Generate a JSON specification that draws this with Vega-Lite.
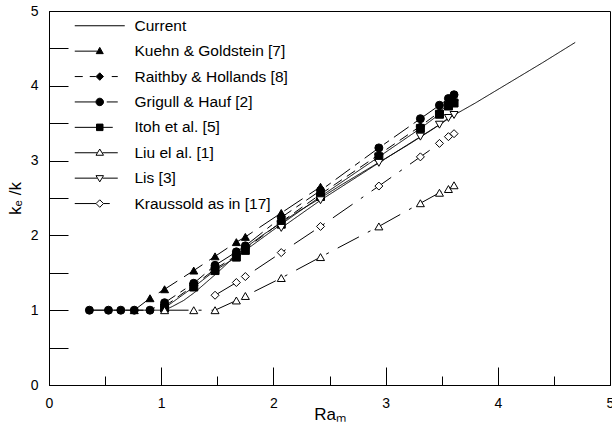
{
  "$schema": "https://vega.github.io/schema/vega-lite/v6.json",
  "width": 561,
  "height": 374,
  "autosize": "none",
  "padding": {"left": 49, "top": 11, "right": 2, "bottom": 47},
  "background": "white",
  "config": {
    "view": {"stroke": "black", "strokeWidth": 1},
    "axis": {
      "domainColor": "black", "tickColor": "black", "grid": false,
      "labelFont": "Liberation Sans", "labelFontSize": 14, "labelColor": "black",
      "titleFont": "Liberation Sans", "titleFontSize": 17, "titleFontWeight": "normal", "titleColor": "black"
    }
  },
  "datasets": {
    "pts": [
      {"s": "Current", "x": 0.36, "y": 1.0},
      {"s": "Current", "x": 1.03, "y": 1.0},
      {"s": "Current", "x": 1.1, "y": 1.05},
      {"s": "Current", "x": 1.2, "y": 1.13},
      {"s": "Current", "x": 1.3, "y": 1.24},
      {"s": "Current", "x": 1.4, "y": 1.37},
      {"s": "Current", "x": 1.5, "y": 1.5},
      {"s": "Current", "x": 1.6, "y": 1.64},
      {"s": "Current", "x": 1.7, "y": 1.77},
      {"s": "Current", "x": 1.8, "y": 1.89},
      {"s": "Current", "x": 1.9, "y": 2.0},
      {"s": "Current", "x": 2.0, "y": 2.1},
      {"s": "Current", "x": 2.2, "y": 2.3},
      {"s": "Current", "x": 2.4, "y": 2.48},
      {"s": "Current", "x": 2.6, "y": 2.67},
      {"s": "Current", "x": 2.8, "y": 2.85},
      {"s": "Current", "x": 3.0, "y": 3.03},
      {"s": "Current", "x": 3.2, "y": 3.21},
      {"s": "Current", "x": 3.4, "y": 3.4},
      {"s": "Current", "x": 3.6, "y": 3.6},
      {"s": "Current", "x": 3.8, "y": 3.77},
      {"s": "Current", "x": 4.0, "y": 3.95},
      {"s": "Current", "x": 4.2, "y": 4.13},
      {"s": "Current", "x": 4.4, "y": 4.31},
      {"s": "Current", "x": 4.69, "y": 4.58},

      {"s": "Kuehn & Goldstein [7]", "x": 0.76, "y": 1.0},
      {"s": "Kuehn & Goldstein [7]", "x": 0.9, "y": 1.16},
      {"s": "Kuehn & Goldstein [7]", "x": 1.03, "y": 1.28},
      {"s": "Kuehn & Goldstein [7]", "x": 1.29, "y": 1.53},
      {"s": "Kuehn & Goldstein [7]", "x": 1.48, "y": 1.72},
      {"s": "Kuehn & Goldstein [7]", "x": 1.67, "y": 1.91},
      {"s": "Kuehn & Goldstein [7]", "x": 1.75, "y": 1.98},
      {"s": "Kuehn & Goldstein [7]", "x": 2.07, "y": 2.3},
      {"s": "Kuehn & Goldstein [7]", "x": 2.42, "y": 2.65},

      {"s": "Raithby & Hollands [8]", "x": 1.03, "y": 1.05},
      {"s": "Raithby & Hollands [8]", "x": 1.29, "y": 1.33},
      {"s": "Raithby & Hollands [8]", "x": 1.48, "y": 1.55},
      {"s": "Raithby & Hollands [8]", "x": 1.67, "y": 1.73},
      {"s": "Raithby & Hollands [8]", "x": 1.75, "y": 1.82},
      {"s": "Raithby & Hollands [8]", "x": 2.07, "y": 2.18},
      {"s": "Raithby & Hollands [8]", "x": 2.42, "y": 2.55},
      {"s": "Raithby & Hollands [8]", "x": 2.94, "y": 3.08},
      {"s": "Raithby & Hollands [8]", "x": 3.31, "y": 3.46},
      {"s": "Raithby & Hollands [8]", "x": 3.48, "y": 3.65},
      {"s": "Raithby & Hollands [8]", "x": 3.56, "y": 3.76},
      {"s": "Raithby & Hollands [8]", "x": 3.61, "y": 3.8},

      {"s": "Grigull & Hauf [2]", "x": 0.36, "y": 1.0},
      {"s": "Grigull & Hauf [2]", "x": 0.53, "y": 1.0},
      {"s": "Grigull & Hauf [2]", "x": 0.64, "y": 1.0},
      {"s": "Grigull & Hauf [2]", "x": 0.76, "y": 1.0},
      {"s": "Grigull & Hauf [2]", "x": 0.9, "y": 1.0},
      {"s": "Grigull & Hauf [2]", "x": 1.03, "y": 1.1},
      {"s": "Grigull & Hauf [2]", "x": 1.29, "y": 1.36},
      {"s": "Grigull & Hauf [2]", "x": 1.48, "y": 1.6},
      {"s": "Grigull & Hauf [2]", "x": 1.67, "y": 1.78},
      {"s": "Grigull & Hauf [2]", "x": 1.75, "y": 1.86},
      {"s": "Grigull & Hauf [2]", "x": 2.07, "y": 2.24},
      {"s": "Grigull & Hauf [2]", "x": 2.42, "y": 2.6},
      {"s": "Grigull & Hauf [2]", "x": 2.94, "y": 3.17},
      {"s": "Grigull & Hauf [2]", "x": 3.31, "y": 3.56},
      {"s": "Grigull & Hauf [2]", "x": 3.48, "y": 3.74},
      {"s": "Grigull & Hauf [2]", "x": 3.56, "y": 3.83},
      {"s": "Grigull & Hauf [2]", "x": 3.61, "y": 3.88},

      {"s": "Itoh et al. [5]", "x": 1.03, "y": 1.03},
      {"s": "Itoh et al. [5]", "x": 1.29, "y": 1.31},
      {"s": "Itoh et al. [5]", "x": 1.48, "y": 1.53},
      {"s": "Itoh et al. [5]", "x": 1.67, "y": 1.71},
      {"s": "Itoh et al. [5]", "x": 1.75, "y": 1.8},
      {"s": "Itoh et al. [5]", "x": 2.07, "y": 2.15},
      {"s": "Itoh et al. [5]", "x": 2.42, "y": 2.52},
      {"s": "Itoh et al. [5]", "x": 2.94, "y": 3.05},
      {"s": "Itoh et al. [5]", "x": 3.31, "y": 3.43},
      {"s": "Itoh et al. [5]", "x": 3.48, "y": 3.62},
      {"s": "Itoh et al. [5]", "x": 3.56, "y": 3.73},
      {"s": "Itoh et al. [5]", "x": 3.61, "y": 3.77},

      {"s": "Liu el al. [1]", "x": 1.03, "y": 1.0},
      {"s": "Liu el al. [1]", "x": 1.29, "y": 1.0},
      {"s": "Liu el al. [1]", "x": 1.48, "y": 1.0},
      {"s": "Liu el al. [1]", "x": 1.67, "y": 1.13},
      {"s": "Liu el al. [1]", "x": 1.75, "y": 1.19},
      {"s": "Liu el al. [1]", "x": 2.07, "y": 1.43},
      {"s": "Liu el al. [1]", "x": 2.42, "y": 1.71},
      {"s": "Liu el al. [1]", "x": 2.94, "y": 2.12},
      {"s": "Liu el al. [1]", "x": 3.31, "y": 2.43},
      {"s": "Liu el al. [1]", "x": 3.48, "y": 2.57},
      {"s": "Liu el al. [1]", "x": 3.56, "y": 2.62},
      {"s": "Liu el al. [1]", "x": 3.61, "y": 2.67},

      {"s": "Lis [3]", "x": 2.07, "y": 2.1},
      {"s": "Lis [3]", "x": 2.42, "y": 2.47},
      {"s": "Lis [3]", "x": 2.94, "y": 2.97},
      {"s": "Lis [3]", "x": 3.31, "y": 3.32},
      {"s": "Lis [3]", "x": 3.48, "y": 3.48},
      {"s": "Lis [3]", "x": 3.56, "y": 3.57},
      {"s": "Lis [3]", "x": 3.61, "y": 3.61},

      {"s": "Kraussold as in [17]", "x": 1.48, "y": 1.2},
      {"s": "Kraussold as in [17]", "x": 1.67, "y": 1.37},
      {"s": "Kraussold as in [17]", "x": 1.75, "y": 1.45},
      {"s": "Kraussold as in [17]", "x": 2.07, "y": 1.77},
      {"s": "Kraussold as in [17]", "x": 2.42, "y": 2.12},
      {"s": "Kraussold as in [17]", "x": 2.94, "y": 2.66},
      {"s": "Kraussold as in [17]", "x": 3.31, "y": 3.05},
      {"s": "Kraussold as in [17]", "x": 3.48, "y": 3.23},
      {"s": "Kraussold as in [17]", "x": 3.56, "y": 3.32},
      {"s": "Kraussold as in [17]", "x": 3.61, "y": 3.36}
    ]
  },
  "data": {"name": "pts"},
  "encoding": {
    "x": {
      "field": "x", "type": "quantitative",
      "scale": {"domain": [0, 5], "nice": false, "zero": false},
      "title": "Raₘ",
      "axis": {
        "values": [0, 0.5, 1, 1.5, 2, 2.5, 3, 3.5, 4, 4.5, 5],
        "tickSize": {"condition": {"test": "datum.value % 1 === 0", "value": -18}, "value": -9},
        "labelExpr": "datum.value % 1 === 0 ? format(datum.value, 'd') : ''",
        "labelPadding": 29,
        "labelFlush": false,
        "titlePadding": -4
      }
    },
    "y": {
      "field": "y", "type": "quantitative",
      "scale": {"domain": [0, 5], "nice": false, "zero": false},
      "title": "kₑ /k",
      "axis": {
        "values": [0, 0.5, 1, 1.5, 2, 2.5, 3, 3.5, 4, 4.5, 5],
        "tickSize": -19,
        "labelExpr": "datum.value % 1 === 0 ? format(datum.value, 'd') : ''",
        "labelPadding": 30,
        "labelFlush": false,
        "titlePadding": 6
      }
    }
  },
  "layer": [
    {
      "mark": {"type": "line", "color": "black", "strokeWidth": 1},
      "encoding": {
        "strokeDash": {
          "field": "s", "type": "nominal",
          "scale": {
            "domain": ["Current", "Kuehn & Goldstein [7]", "Raithby & Hollands [8]", "Grigull & Hauf [2]", "Itoh et al. [5]", "Liu el al. [1]", "Lis [3]", "Kraussold as in [17]"],
            "range": [[1, 0], [22, 8], [10, 6], [18, 6, 6, 6], [1, 0], [24, 10, 3, 10], [1, 0], [24, 10, 3, 10]]
          },
          "legend": null
        }
      }
    },
    {
      "transform": [{"filter": "datum.s !== 'Current'"}],
      "mark": {"type": "point", "stroke": "black", "strokeWidth": 1, "opacity": 1},
      "encoding": {
        "shape": {
          "field": "s", "type": "nominal",
          "scale": {
            "domain": ["Kuehn & Goldstein [7]", "Raithby & Hollands [8]", "Grigull & Hauf [2]", "Itoh et al. [5]", "Liu el al. [1]", "Lis [3]", "Kraussold as in [17]"],
            "range": ["triangle-up", "diamond", "circle", "square", "triangle-up", "triangle-down", "diamond"]
          },
          "legend": null
        },
        "size": {
          "field": "s", "type": "nominal",
          "scale": {
            "domain": ["Kuehn & Goldstein [7]", "Raithby & Hollands [8]", "Grigull & Hauf [2]", "Itoh et al. [5]", "Liu el al. [1]", "Lis [3]", "Kraussold as in [17]"],
            "range": [64, 64, 90, 56, 60, 60, 56]
          },
          "legend": null
        },
        "fill": {
          "field": "s", "type": "nominal",
          "scale": {
            "domain": ["Kuehn & Goldstein [7]", "Raithby & Hollands [8]", "Grigull & Hauf [2]", "Itoh et al. [5]", "Liu el al. [1]", "Lis [3]", "Kraussold as in [17]"],
            "range": ["black", "black", "black", "black", "white", "white", "white"]
          },
          "legend": null
        }
      }
    },
    {
      "transform": [{"filter": "false"}],
      "mark": {"type": "point", "stroke": "black", "strokeWidth": 1, "opacity": 1},
      "encoding": {
        "shape": {
          "field": "s", "type": "nominal",
          "scale": {
            "domain": ["Current", "Kuehn & Goldstein [7]", "Raithby & Hollands [8]", "Grigull & Hauf [2]", "Itoh et al. [5]", "Liu el al. [1]", "Lis [3]", "Kraussold as in [17]"],
            "range": [
              "M-5,0L5,0",
              "M-5,0L-0.5,0M0,-0.75L0.7,0.5L-0.7,0.5Z",
              "M-5,0L-3.4,0M-2,0L-0.8,0M0,-0.75L0.75,0L0,0.75L-0.75,0ZM2.4,0L3.6,0",
              "M-5,0L-0.75,0M0.75,0A0.75,0.75,0,1,1,-0.75,0A0.75,0.75,0,1,1,0.75,0ZM1.4,0L3.6,0",
              "M-5,0L2.6,0M-0.65,-0.65L0.65,-0.65L0.65,0.65L-0.65,0.65Z",
              "M-5,0L-0.55,0M0.55,0L3.6,0M0,-0.75L0.75,0.5L-0.75,0.5Z",
              "M-5,0L-0.55,0M0.55,0L3.6,0M0,0.75L0.75,-0.5L-0.75,-0.5Z",
              "M-5,0L-0.75,0M0.75,0L2,0M0,-0.75L0.75,0L0,0.75L-0.75,0Z"
            ]
          },
          "legend": {
            "title": null, "orient": "none", "legendX": 43, "legendY": 7,
            "symbolSize": 100, "symbolStrokeColor": "black", "symbolStrokeWidth": 1, "symbolOpacity": 1,
            "labelFont": "Liberation Sans", "labelFontSize": 15.5, "labelColor": "black",
            "labelOffset": 27, "labelLimit": 400, "rowPadding": 8.4, "padding": 0,
            "encode": {"symbols": {"update": {"stroke": {"value": "black"}, "strokeWidth": {"value": 1}, "opacity": {"value": 1}}}}
          }
        },
        "fill": {
          "field": "s", "type": "nominal",
          "scale": {
            "domain": ["Current", "Kuehn & Goldstein [7]", "Raithby & Hollands [8]", "Grigull & Hauf [2]", "Itoh et al. [5]", "Liu el al. [1]", "Lis [3]", "Kraussold as in [17]"],
            "range": ["white", "black", "black", "black", "black", "white", "white", "white"]
          },
          "legend": {
            "title": null, "orient": "none", "legendX": 43, "legendY": 7,
            "symbolSize": 100, "symbolStrokeColor": "black", "symbolStrokeWidth": 1, "symbolOpacity": 1,
            "labelFont": "Liberation Sans", "labelFontSize": 15.5, "labelColor": "black",
            "labelOffset": 27, "labelLimit": 400, "rowPadding": 8.4, "padding": 0,
            "encode": {"symbols": {"update": {"stroke": {"value": "black"}, "strokeWidth": {"value": 1}, "opacity": {"value": 1}}}}
          }
        }
      }
    }
  ],
  "resolve": {"scale": {"shape": "independent", "fill": "independent"}}
}
